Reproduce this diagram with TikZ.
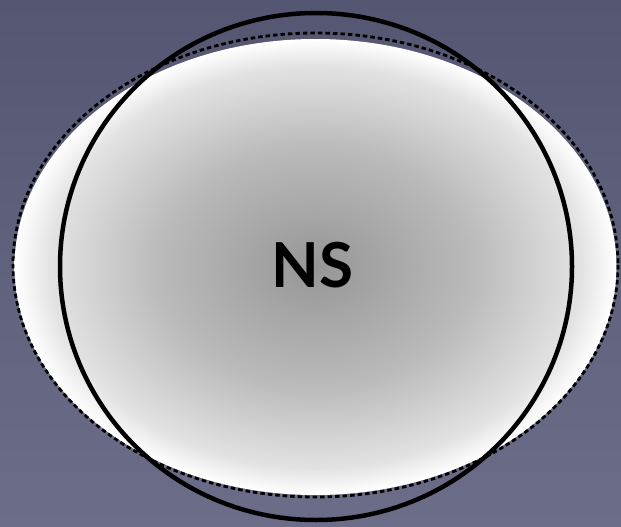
\documentclass[tikz,border=0pt]{standalone}
\usepackage{fontspec}
\newfontfamily\labelfont{Lato}
\usepackage{tikz}
\usetikzlibrary{
  shapes.geometric,
  positioning,
  backgrounds
}
\definecolor{bgtop}{RGB}{84,86,114}
\definecolor{bgbottom}{RGB}{108,109,136}
\definecolor{starcore}{RGB}{150,150,150}
\definecolor{starmid}{RGB}{186,186,186}
\definecolor{staredge}{RGB}{226,226,226}
\pgfdeclareradialshading{starglow}{\pgfpoint{0bp}{0bp}}{%
  color(0bp)=(starcore); color(13bp)=(starmid); color(22bp)=(staredge);
  color(25bp)=(white); color(50bp)=(white)}
\tikzset{
  sky/.style={
    top color=bgtop, bottom color=bgbottom, draw=none
  },
  starbody/.style={
    shading=starglow, draw=none
  },
  starrim/.style={
    draw=black, line width=2.8pt, dash pattern=on 4.5pt off 3pt
  },
  fitcircle/.style={
    draw=black, line width=4.5pt
  },
  starlabel/.style={
    font=\labelfont\bfseries\fontsize{62}{62}\selectfont,
    text=black, inner sep=0pt
  }
}

\begin{document}
\begin{tikzpicture}[x=1pt, y=-1pt]

% Background
\useasboundingbox (0,0) rectangle (621,527);
\shade[sky] (0,0) rectangle (621,527);

% Shaded body
\shade[starbody] (315.5,267) ellipse [x radius=301, y radius=228];

% Dashed outline
\draw[starrim] (315.5,265) ellipse [x radius=302.5, y radius=232];

% Solid circle
\draw[fitcircle] (316,266.5) ellipse [x radius=256, y radius=253.5];

% Label
\node[starlabel] (ns) at (312.5,265) {NS};

\end{tikzpicture}
\end{document}
